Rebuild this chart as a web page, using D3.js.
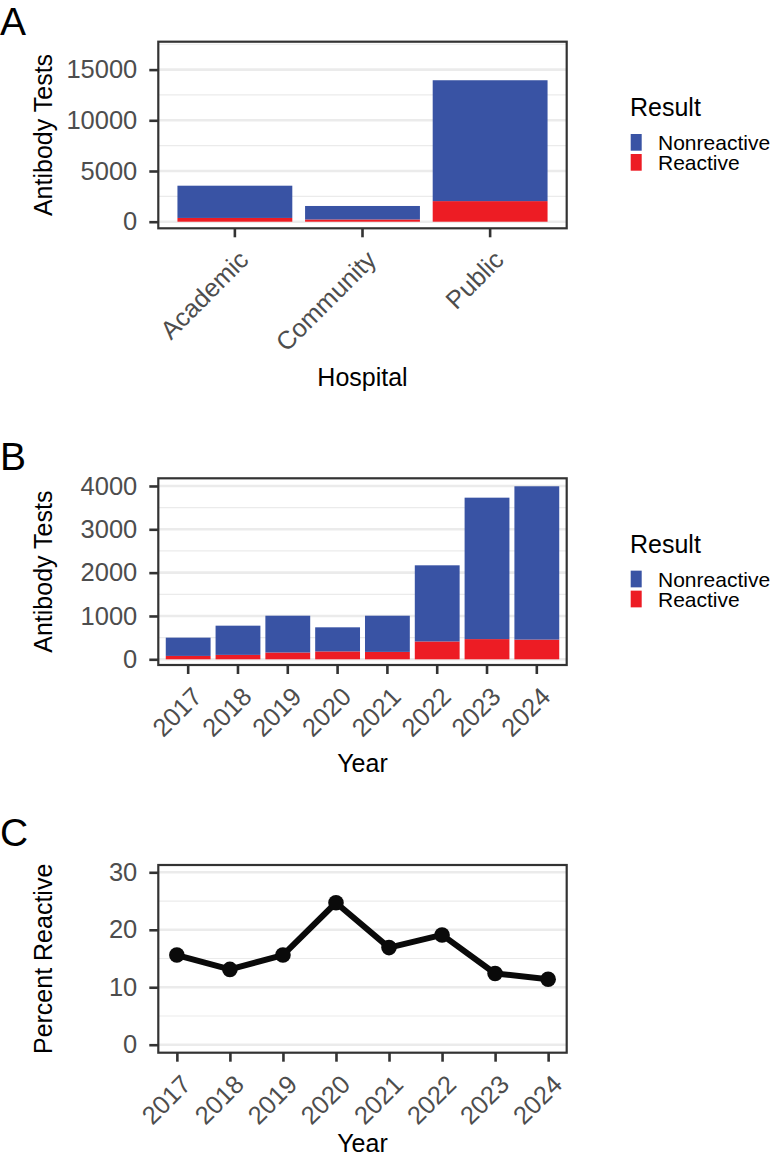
<!DOCTYPE html>
<html>
<head>
<meta charset="utf-8">
<script src="https://cdn.jsdelivr.net/npm/d3@7"></script>
<style>
  body { margin: 0; background: #fff; }
  svg { display: block; font-family: "Liberation Sans", Arial, Helvetica, sans-serif; }
</style>
</head>
<body>
<svg width="775" height="1160"></svg>
<script>
  // data
  var hospitals = ["Academic", "Community", "Public"];
  var hospitalReactive = [370, 220, 2030];
  var hospitalNonreactive = [3180, 1330, 11920];

  var years = [2017, 2018, 2019, 2020, 2021, 2022, 2023, 2024];
  var yearReactive = [78, 102, 157, 182, 171, 412, 466, 455];
  var yearNonreactive = [422, 674, 849, 556, 835, 1757, 3264, 3538];

  var percentReactive = [15.6, 13.1, 15.6, 24.7, 16.9, 19.1, 12.4, 11.4];

  var resultKeys = ["Nonreactive", "Reactive"];
  var color = d3.scaleOrdinal().domain(resultKeys).range(["#3953a4", "#ed1c24"]);

  var svg = d3.select("svg");
  var left = 158.3,
    right = 566.7;
  var tickCol = "#333333",
    labCol = "#4d4d4d",
    gridCol = "#ebebeb";
  var tickFont = "25.5px",
    titleFont = "25px";

  function panel(top, bottom, y, major, minor, label, labelY, ytitle, legend) {
    var g = svg.append("g");
    g.selectAll("line.minor")
      .data(minor)
      .enter()
      .append("line")
      .attr("x1", left)
      .attr("x2", right)
      .attr("y1", (d) => y(d))
      .attr("y2", (d) => y(d))
      .style("stroke", gridCol)
      .style("stroke-width", 1.2);
    g.selectAll("line.major")
      .data(major)
      .enter()
      .append("line")
      .attr("x1", left)
      .attr("x2", right)
      .attr("y1", (d) => y(d))
      .attr("y2", (d) => y(d))
      .style("stroke", gridCol)
      .style("stroke-width", 2.6);

    var ax = svg
      .append("g")
      .attr("transform", "translate(" + left + ",0)")
      .call(d3.axisLeft(y).tickValues(major).tickSize(9).tickPadding(12).tickFormat(d3.format("d")));
    ax.select(".domain").remove();
    ax.selectAll("line").style("stroke", tickCol).style("stroke-width", 2.6);
    ax.selectAll("text")
      .style("fill", labCol)
      .style("font-size", tickFont)
      .style("font-family", "inherit");

    svg.append("text")
      .attr("x", 0)
      .attr("y", labelY)
      .style("font-size", "39px")
      .text(label);

    svg.append("text")
      .attr("transform", "translate(52," + (top + bottom) / 2 + ") rotate(-90)")
      .attr("text-anchor", "middle")
      .style("font-size", titleFont)
      .text(ytitle);

    if (legend) {
      var mid = (top + bottom) / 2;
      var lg = svg.append("g").attr("transform", "translate(630," + (mid - 19) + ")");
      lg.append("text").attr("x", 0).attr("y", 0).style("font-size", titleFont).text("Result");
      var it = lg
        .selectAll("g")
        .data(resultKeys)
        .enter()
        .append("g")
        .attr("transform", (d, i) => "translate(0," + (18 + i * 20) + ")");
      it.append("rect")
        .attr("x", 0.7)
        .attr("width", 11)
        .attr("height", 16.7)
        .attr("fill", (d) => color(d));
      it.append("text")
        .attr("x", 28)
        .attr("y", 16)
        .style("font-size", "21px")
        .text((d) => d);
    }
    return g;
  }

  function border(top, bottom) {
    svg.append("rect")
      .attr("x", left)
      .attr("y", top)
      .attr("width", right - left)
      .attr("height", bottom - top)
      .attr("fill", "none")
      .style("stroke", tickCol)
      .style("stroke-width", 2.2);
  }

  function xAxis(scale, bottom, fmt) {
    var ax = svg
      .append("g")
      .attr("transform", "translate(0," + bottom + ")")
      .call(fmt(d3.axisBottom(scale)).tickSize(9));
    ax.select(".domain").remove();
    ax.selectAll("line").style("stroke", tickCol).style("stroke-width", 2.6);
    ax.selectAll("text")
      .attr("y", null)
      .attr("dy", "0.9em")
      .attr("transform", "translate(-1,17) rotate(-45)")
      .attr("text-anchor", "end")
      .style("fill", labCol)
      .style("font-size", tickFont)
      .style("font-family", "inherit");
  }

  function stackedBars(g, cats, react, nonreact, x, y) {
    var rows = cats.map((c, i) => ({ cat: c, Reactive: react[i], Nonreactive: nonreact[i] }));
    var series = d3.stack().keys(["Reactive", "Nonreactive"])(rows);
    g.selectAll("g.s")
      .data(series)
      .enter()
      .append("g")
      .attr("fill", (d) => color(d.key))
      .selectAll("rect")
      .data((d) => d)
      .enter()
      .append("rect")
      .attr("x", (d) => x(d.data.cat))
      .attr("width", x.bandwidth())
      .attr("y", (d) => y(d[1]))
      .attr("height", (d) => y(d[0]) - y(d[1]));
  }

  // ---- A
  var aTop = 41.7,
    aBot = 228.3;
  var xA = d3.scaleBand().domain(hospitals).range([left, right]).paddingInner(0.1).paddingOuter(0.15);
  var yA = d3.scaleLinear().domain([-651, 17751]).range([aBot, aTop]);
  var gA = panel(aTop, aBot, yA, [0, 5000, 10000, 15000], [2500, 7500, 12500, 17500], "A", 35, "Antibody Tests", true);
  stackedBars(gA, hospitals, hospitalReactive, hospitalNonreactive, xA, yA);
  border(aTop, aBot);
  xAxis(xA, aBot, (a) => a);
  svg.append("text")
    .attr("x", (left + right) / 2)
    .attr("y", 386)
    .attr("text-anchor", "middle")
    .style("font-size", titleFont)
    .text("Hospital");

  // ---- B
  var bTop = 478.3,
    bBot = 665;
  var xB = d3.scaleBand().domain(years).range([left, right]).paddingInner(0.1).paddingOuter(0.15);
  var yB = d3.scaleLinear().domain([-131.5, 4177]).range([bBot, bTop]);
  var gB = panel(bTop, bBot, yB, [0, 1000, 2000, 3000, 4000], [500, 1500, 2500, 3500], "B", 470, "Antibody Tests", true);
  stackedBars(gB, years, yearReactive, yearNonreactive, xB, yB);
  border(bTop, bBot);
  xAxis(xB, bBot, (a) => a);
  svg.append("text")
    .attr("x", (left + right) / 2)
    .attr("y", 771.7)
    .attr("text-anchor", "middle")
    .style("font-size", titleFont)
    .text("Year");

  // ---- C
  var cTop = 865,
    cBot = 1052.7;
  var xC = d3.scaleLinear().domain([2017 - 0.35, 2024 + 0.35]).range([left, right]);
  var yC = d3.scaleLinear().domain([-1.39, 31.27]).range([cBot, cTop]);
  var gC = panel(cTop, cBot, yC, [0, 10, 20, 30], [5, 15, 25], "C", 846, "Percent Reactive", false);
  var pts = years.map((yr, i) => ({ year: yr, pct: percentReactive[i] }));
  gC.append("path")
    .datum(pts)
    .attr("fill", "none")
    .style("stroke", "#0a0a0a")
    .style("stroke-width", 6)
    .style("stroke-linejoin", "round")
    .attr("d", d3.line().x((d) => xC(d.year)).y((d) => yC(d.pct)));
  gC.selectAll("circle")
    .data(pts)
    .enter()
    .append("circle")
    .attr("cx", (d) => xC(d.year))
    .attr("cy", (d) => yC(d.pct))
    .attr("r", 7.8)
    .attr("fill", "#0a0a0a");
  border(cTop, cBot);
  xAxis(xC, cBot, (a) => a.tickValues(years).tickFormat(d3.format("d")));
  svg.append("text")
    .attr("x", (left + right) / 2)
    .attr("y", 1152)
    .attr("text-anchor", "middle")
    .style("font-size", titleFont)
    .text("Year");
</script>
</body>
</html>
